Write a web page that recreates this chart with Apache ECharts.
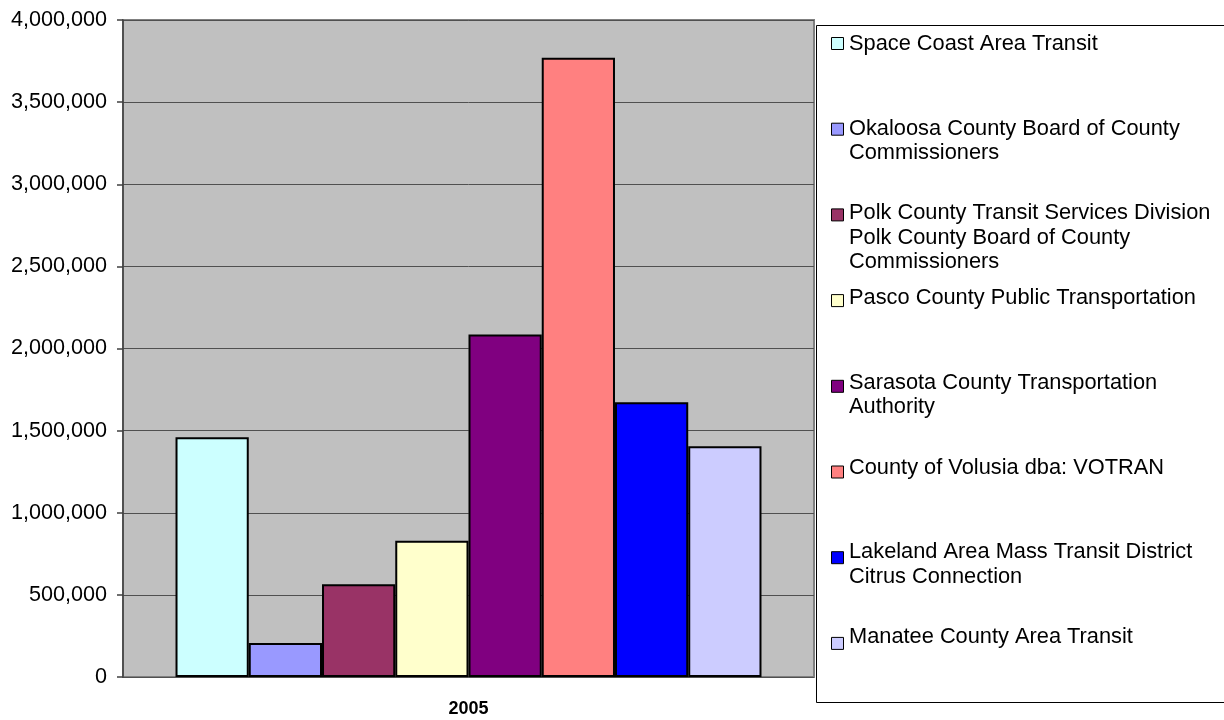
<!DOCTYPE html>
<html>
<head>
<meta charset="utf-8">
<script src="https://cdn.jsdelivr.net/npm/echarts@6/dist/echarts.min.js"></script>
<style>
html,body{margin:0;padding:0;background:#fff;}
#chart{width:1224px;height:720px;}
</style>
</head>
<body>
<div id="chart"></div>
<script>
const categories = ['2005'];
const seriesNames = [
  'Space Coast Area Transit',
  'Okaloosa County Board of County Commissioners',
  'Polk County Transit Services Division Polk County Board of County Commissioners',
  'Pasco County Public Transportation',
  'Sarasota County Transportation Authority',
  'County of Volusia dba: VOTRAN',
  'Lakeland Area Mass Transit District Citrus Connection',
  'Manatee County Area Transit'
];
const legendLabels = [
  'Space Coast Area Transit',
  'Okaloosa County Board of County\nCommissioners',
  'Polk County Transit Services Division\nPolk County Board of County\nCommissioners',
  'Pasco County Public Transportation',
  'Sarasota County Transportation\nAuthority',
  'County of Volusia dba: VOTRAN',
  'Lakeland Area Mass Transit District\nCitrus Connection',
  'Manatee County Area Transit'
];
const values = [1460000, 207000, 565000, 830000, 2085000, 3770000, 1673000, 1405000];
const colors = ['#CCFFFF', '#9999FF', '#993366', '#FFFFCC', '#800080', '#FF8080', '#0000FF', '#CCCCFF'];
const yTicks = {min: 0, max: 4000000, interval: 500000};

const FONT = 'Liberation Sans, Arial, sans-serif';
const LINE_H = 24.3;

function fmt(v) {
  return String(v).replace(/\B(?=(\d{3})+(?!\d))/g, ',');
}
function padLabel(name) {
  const lbl = legendLabels[seriesNames.indexOf(name)];
  const n = lbl.split('\n').length;
  return lbl + '\n'.repeat(3 - n);
}

const chart = echarts.init(document.getElementById('chart'), null, {renderer: 'canvas'});
chart.setOption({
  animation: false,
  backgroundColor: '#ffffff',
  grid: {
    left: 123, right: 410, top: 20, bottom: 43,
    show: true, backgroundColor: '#C0C0C0', borderColor: '#808080', borderWidth: 2
  },
  graphic: [{
    type: 'rect', z: -1,
    shape: {x: 816.5, y: 25.5, width: 420, height: 677},
    style: {fill: '#ffffff', stroke: '#000000', lineWidth: 1}
  }],
  legend: [{
    orient: 'vertical', left: 831, top: 37, padding: 0,
    data: seriesNames, selectedMode: false,
    itemWidth: 12, itemHeight: 12, itemGap: 72.7,
    icon: 'rect',
    itemStyle: {borderColor: '#000', borderWidth: 1},
    formatter: () => '',
    textStyle: {fontSize: 1}
  }, {
    orient: 'vertical', left: 844, top: 44 - LINE_H / 2, padding: 0,
    data: seriesNames, selectedMode: false,
    icon: 'none', itemWidth: 0, itemHeight: 10, itemGap: 84.7 - 3 * LINE_H,
    formatter: padLabel,
    textStyle: {fontFamily: FONT, fontSize: 21.8, lineHeight: LINE_H, color: '#000'}
  }],
  xAxis: {
    type: 'category', data: categories,
    axisLine: {show: false},
    axisTick: {show: false},
    axisLabel: {fontFamily: FONT, fontSize: 18, fontWeight: 'bold', color: '#000', margin: 23}
  },
  yAxis: {
    type: 'value', min: yTicks.min, max: yTicks.max, interval: yTicks.interval,
    axisLine: {show: true, lineStyle: {color: '#404040', width: 1.5}},
    axisTick: {show: true, length: 6, lineStyle: {color: '#404040', width: 1.5}},
    splitLine: {show: true, lineStyle: {color: '#505050', width: 1}},
    axisLabel: {fontFamily: FONT, fontSize: 21.6, color: '#000', margin: 16, formatter: fmt}
  },
  series: seriesNames.map((name, i) => ({
    name: name, type: 'bar',
    data: [values[i]],
    barGap: '0%', barCategoryGap: '15.2%',
    itemStyle: {color: colors[i], borderColor: '#000', borderWidth: 2}
  }))
});
</script>
</body>
</html>
